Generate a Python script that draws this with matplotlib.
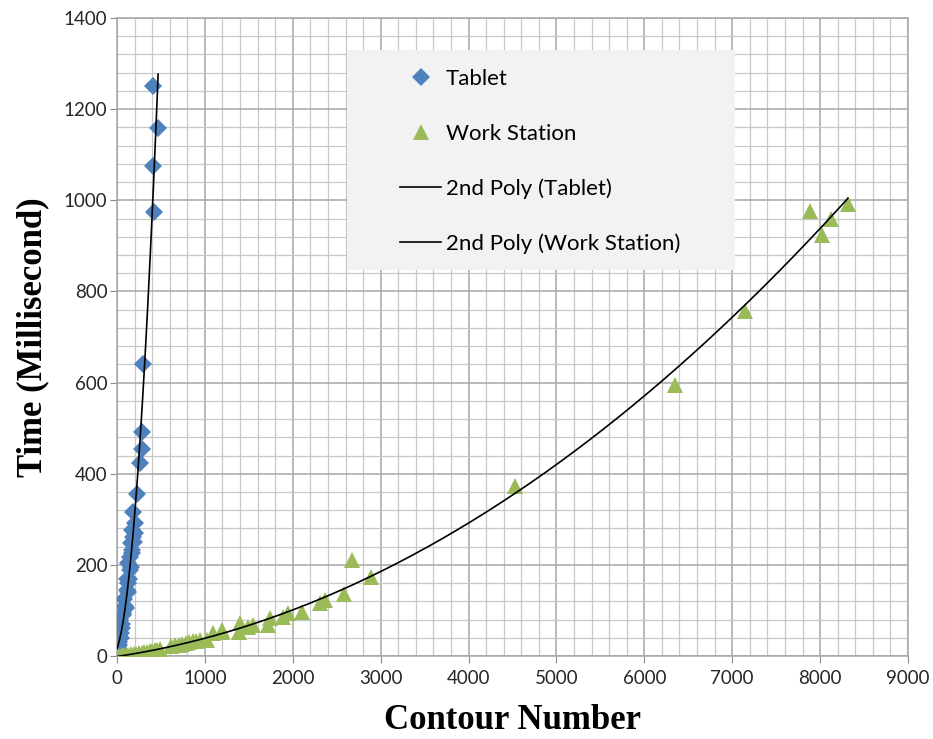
import numpy as np
import matplotlib.pyplot as plt
import matplotlib.patches as mpatches
from matplotlib.ticker import MultipleLocator

# 数据：平板 (Tablet)
tablet_x = [0, 2, 3, 5, 6, 8, 10, 12, 15, 20, 25, 34, 40, 45, 53, 60, 65, 72, 80, 91, 100,
            110, 110, 120, 129, 129, 140, 148, 148, 156, 160, 167, 167, 175, 186,
            186, 195, 200, 205, 231, 262, 281, 281, 299, 421, 406, 468, 413]
tablet_y = [2, 4, 8, 5, 12, 10, 15, 18, 22, 25, 30, 80, 40, 50, 62, 70, 90, 95, 125, 110, 105,
            145, 170, 140, 160, 204, 170, 189, 218, 247, 195, 233, 276, 225, 262,
            315, 250, 270, 292, 355, 423, 454, 492, 640, 975, 1075, 1158, 1251]

# 数据：工作站 (Work Station)
ws_x = [0, 20, 40, 60, 80, 100, 130, 160, 190, 220, 250, 280, 310, 340, 370, 400,
        430, 460, 490, 620, 660, 700, 740, 780, 820, 860, 900, 944, 1020, 1092,
        1191, 1200, 1388, 1400, 1490, 1550, 1718, 1741, 1890, 1950, 2101, 2310,
        2366, 2586, 2670, 2886, 4528, 6348, 7144, 7884, 8020, 8123, 8316]
ws_y = [0, 1, 1, 2, 2, 3, 3, 4, 5, 5, 6, 7, 8, 9, 10, 11,
        13, 14, 15, 22, 24, 25, 27, 29, 30, 32, 34, 35, 35, 50,
        57, 52, 53, 72, 64, 68, 68, 83, 86, 94, 97, 116,
        123, 137, 211, 174, 373, 595, 757, 977, 924, 959, 992]

blue = '#4F81BD'
green = '#9BBB59'

fig = plt.figure(figsize=(9.33, 7.39), dpi=100)
ax = fig.add_axes([0.1254, 0.1123, 0.8478, 0.8633])

# 散点
ax.plot(tablet_x, tablet_y, linestyle='none', marker='D', markersize=9,
        color=blue, markeredgewidth=0, label='Tablet', zorder=3)
ax.plot(ws_x, ws_y, linestyle='none', marker='^', markersize=11,
        color=green, markeredgewidth=0, label='Work Station', zorder=3)

# 二次多项式趋势线
for xs, ys, lab in [(tablet_x, tablet_y, '2nd Poly (Tablet)'),
                    (ws_x, ws_y, '2nd Poly (Work Station)')]:
    coef = np.polyfit(xs, ys, 2)
    xx = np.linspace(min(xs), max(xs), 300)
    ax.plot(xx, np.polyval(coef, xx), color='black', linewidth=1.2, label=lab, zorder=4)

ax.set_xlim(0, 9000)
ax.set_ylim(0, 1400)
ax.xaxis.set_major_locator(MultipleLocator(1000))
ax.xaxis.set_minor_locator(MultipleLocator(200))
ax.yaxis.set_major_locator(MultipleLocator(200))
ax.yaxis.set_minor_locator(MultipleLocator(40))

# 网格
ax.set_axisbelow(True)
ax.grid(which='major', color='#a6a6a6', linewidth=1.1)
ax.grid(which='minor', color='#c8c8c8', linewidth=0.9)
for s in ax.spines.values():
    s.set_color('#a6a6a6')
    s.set_linewidth(1.1)

ax.tick_params(which='major', length=5, color='#8c8c8c', labelsize=13.5,
               labelcolor='#262626')
ax.tick_params(axis='y', pad=2)
ax.tick_params(axis='x', pad=5)
ax.tick_params(which='minor', length=0)
for lbl in ax.get_xticklabels() + ax.get_yticklabels():
    lbl.set_family('Lato')

ax.set_xlabel('Contour Number', family='Liberation Serif', fontweight='bold',
              fontsize=25, labelpad=12)
ax.set_ylabel('Time (Millisecond)', family='Liberation Serif', fontweight='bold',
              fontsize=25, labelpad=10)

# 图例背景
ax.add_patch(mpatches.Rectangle((0.291, 0.605), 0.49, 0.345, transform=ax.transAxes,
                                facecolor='#f2f2f2', edgecolor='none', zorder=5))
leg = ax.legend(loc='upper left', bbox_to_anchor=(0.358, 0.92), frameon=False,
                prop={'family': 'Lato', 'size': 16}, labelspacing=1.55,
                handlelength=1.85, handletextpad=0.2, borderpad=0, borderaxespad=0)
leg.set_zorder(6)

plt.savefig('out.png', dpi=100)
